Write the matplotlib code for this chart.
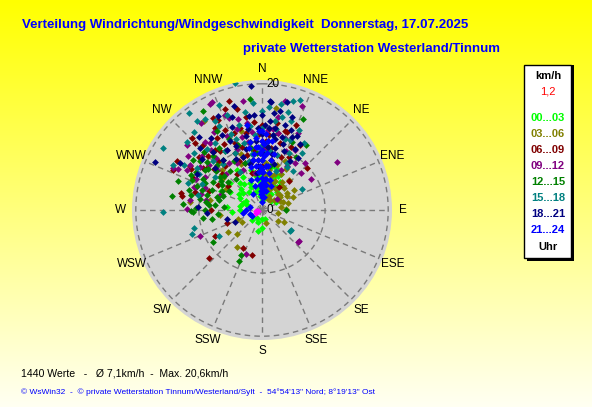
import numpy as np
import matplotlib
matplotlib.use("Agg")
import matplotlib.pyplot as plt
from matplotlib.patches import Rectangle

plt.rcParams['font.family'] = ['Liberation Sans', 'DejaVu Sans']

W, H = 592, 407

# compass directions
dir_names = ['N', 'NNE', 'NE', 'ENE', 'E', 'ESE', 'SE', 'SSE',
             'S', 'SSW', 'SW', 'WSW', 'W', 'WNW', 'NW', 'NNW']
dir_angles = np.arange(16) * 22.5

# wind readings per 3-hour block: (direction in degrees, speed in km/h)
pts_00_03 = [(0, 1.5), (10, 2.0), (20, 2.5), (350, 2.2), (340, 3.0), (15, 3.5), (30, 3.0), (5, 4.0),
             (355, 4.5), (336, 4.7), (356, 5.2), (16, 4.6), (33, 4.4), (33, 5.3), (25, 6.0), (12, 6.9),
             (345, 6.5), (320, 5.5), (312, 4.0), (299, 4.0), (288, 2.5), (266, 4.8), (300, 5.8), (325, 3.5),
             (330, 6.0), (180, 2.9), (180, 1.4), (191, 3.4), (225, 2.2), (200, 2.0), (160, 1.5), (45, 2.0),
             (60, 2.5), (40, 3.8), (8, 5.8), (22, 4.2), (350, 3.6), (310, 6.6), (295, 7.2), (2, 3.2),
             (28, 6.5), (18, 7.0), (340, 5.0), (315, 4.8), (290, 3.2), (328, 7.5),
             (0, 3), (5, 2.5), (355, 3.3), (345, 4), (8, 4.8), (20, 5.5), (30, 4.2), (350, 5.5), (325, 5),
             (305, 4.5), (280, 3.5), (270, 3.5), (10, 6), (355, 6.2), (40, 5), (15, 3), (335, 4), (300, 3),
             (275, 5.5), (210, 1.5)]
pts_03_06 = [(10, 3), (20, 3.5), (30, 4), (45, 3.5), (60, 4.5), (67, 5.3), (50, 3.7), (25, 2.5),
             (15, 4.5), (35, 5.5), (40, 2.0), (70, 3.5), (80, 3.0), (118, 4.0), (163, 2.2), (125, 3.0),
             (100, 2.5), (0, 2.5), (355, 4), (5, 5.5), (20, 6), (8, 16.4), (327, 16.8), (281, 8.4),
             (263, 6.7), (276, 11.5), (239, 3.7), (237, 6.4), (214, 7.1), (226, 5.5), (249, 4.0),
             (300, 6.5), (310, 8), (320, 10), (330, 7), (340, 9.5), (350, 11), (355, 8), (12, 9),
             (25, 8.5), (53, 3.5), (30, 7.5), (3, 12), (345, 13), (28, 6.5), (40, 5),
             (15, 5.5), (22, 4.8), (35, 4), (45, 5), (55, 4.8), (62, 3.2), (75, 4.2), (88, 3.8), (10, 6.5),
             (5, 7.5), (25, 5), (42, 6.3), (58, 6), (50, 2.5), (30, 2.0), (18, 7.5), (12, 4), (350, 6),
             (335, 8), (315, 9), (320, 12)]
pts_06_09 = [(346, 16.5), (316, 15.9), (318, 13.9), (16, 13.1), (30, 11.9), (294, 15.4), (301, 13.4),
             (280, 12.9), (282, 13.1), (270, 8.1), (307, 11), (241, 8.5), (250, 5.9), (207, 6.7),
             (193, 7.3), (228, 11.3), (43, 6.3), (47, 9.8), (340, 17), (334, 15.9), (300, 15.5), (37, 4.5),
             (330, 12), (335, 10), (340, 13), (345, 9), (350, 11), (355, 14), (0, 10), (5, 12), (10, 8),
             (15, 11), (320, 9), (310, 10), (325, 7), (315, 12), (300, 8), (290, 9), (345, 6), (355, 7),
             (335, 14), (325, 11.5), (310, 13), (0, 13.5), (10, 14), (340, 8), (20, 9), (350, 15),
             (305, 6.5), (330, 15),
             (338, 11.5), (342, 10.5), (348, 12.5), (352, 9.5), (358, 12), (3, 11), (8, 10), (12, 12.5),
             (18, 13), (25, 11), (328, 13.5), (322, 12), (318, 10.5), (312, 8.5), (305, 11.5), (295, 12),
             (285, 11), (335, 8.5), (345, 13.5), (0, 7), (332, 16.5), (315, 15), (300, 13),
             (22, 14.5), (343, 18), (27, 9.5)]
pts_09_12 = [(334, 18.7), (339, 16.2), (311, 15.7), (296, 14.8), (306, 14.5), (298, 13.4), (289, 11.4),
             (271, 11.9), (291, 9.7), (312, 12.7), (247, 10.7), (278, 11.5), (200, 7.4), (130, 7.7),
             (132, 7.6), (57, 14.1), (43, 10.1), (47, 8.5), (58, 9.2), (54, 3), (12, 17.7), (21, 17.6),
             (12, 12.5), (4, 12.7), (29, 10.9), (335, 18.8), (325, 16.8), (322, 13.5), (295, 15.6),
             (289, 11.1), (330, 11), (335, 13), (340, 9), (345, 12), (350, 14), (355, 10), (0, 8), (5, 11),
             (15, 9), (320, 12.5), (310, 11), (300, 10.5), (325, 9), (315, 8), (345, 15), (25, 7), (335, 7),
             (350, 6), (305, 12), (290, 7), (10, 15), (320, 14), (280, 9),
             (338, 10.5), (343, 13.5), (348, 11), (353, 12.5), (358, 13), (3, 9.5), (8, 13), (18, 12),
             (22, 10), (328, 14.5), (318, 11), (312, 9.5), (302, 13.5), (295, 11.5), (285, 10), (332, 8.5),
             (0, 11), (340, 15.5), (30, 8), (348, 8), (25, 13.5), (35, 9), (350, 17.5)]
pts_12_15 = [(329, 18.3), (354, 17.7), (330, 14.4), (24, 15.8), (24, 11.8), (34, 12.4), (33, 10), (90, 3.8),
             (289, 14), (279, 14.5), (274, 12.6), (269, 11.3), (293, 12), (276, 7.5), (311, 11.5),
             (268, 11), (237, 9.3), (205, 7.9), (204, 8.9), (306, 13.5), (307, 10.7), (286, 7.4),
             (308, 8.5), (300, 9), (305, 8), (295, 10), (310, 9.5), (285, 9), (290, 11), (315, 10),
             (320, 8), (325, 12), (300, 12), (280, 10), (275, 8.5), (295, 7), (310, 7), (330, 9),
             (340, 11), (350, 10), (0, 9), (10, 7), (260, 8), (265, 7), (285, 12), (305, 11), (315, 13),
             (335, 12.5),
             (298, 10.5), (302, 7.5), (292, 8.5), (288, 10), (282, 11.5), (278, 9), (272, 10.5), (312, 8),
             (318, 11.5), (322, 10), (328, 11), (296, 12.5), (308, 12.5), (283, 7), (270, 9), (262, 9.5),
             (275, 6), (290, 6.5), (300, 6), (320, 6.5), (340, 8), (355, 9), (5, 10)]
pts_15_18 = [(348, 20.6), (323, 19.2), (350, 15.8), (0, 15.7), (324, 17.5), (332, 16), (319, 16.4),
             (4, 16.4), (16, 18), (19, 18.4), (8, 14.3), (18, 14.9), (18, 11.8), (297, 15.8), (300, 14.3),
             (269, 15.7), (283, 10.4), (303, 12.2), (293, 10.4), (255, 11.2), (251, 11.7), (239, 8),
             (302, 18.5), (39, 7.9), (62, 7.2), (30, 7.9), (125, 5.6), (127, 5.6), (340, 12), (345, 14),
             (355, 12), (5, 11), (10, 13), (350, 9), (335, 10), (325, 13), (315, 11), (0, 8), (15, 9),
             (20, 6.5), (330, 7), (310, 14), (305, 9), (340, 16), (355, 17), (25, 10),
             (350, 11), (358, 10), (3, 9), (8, 12), (12, 15), (22, 12), (28, 8.5), (338, 13), (333, 15),
             (328, 11), (318, 13), (312, 16), (345, 11), (352, 13.5), (0, 13), (8, 9.5), (320, 9.5),
             (300, 11.5), (290, 12.5), (345, 8), (35, 11), (10, 17), (25, 14), (32, 12.5), (15, 16),
             (338, 18), (328, 17)]
pts_18_21 = [(355, 19.8), (355, 15.1), (4, 17.3), (5, 14.2), (9, 13.2), (13, 17.6), (294, 18.6),
             (299, 11.7), (273, 10.2), (267, 8.7), (256, 5.7), (246, 4.7), (319, 15.3), (5, 17.2),
             (0, 12), (5, 10), (10, 9), (355, 11), (350, 13), (345, 10), (340, 14), (335, 12), (0, 15),
             (5, 13), (15, 12), (20, 10), (350, 8), (355, 7), (330, 11), (325, 14), (345, 17), (10, 16),
             (0, 6), (5, 7), (15, 7.5), (340, 9), (320, 12), (310, 12.5), (300, 15), (25, 13), (30, 9),
             (358, 9), (2, 10.5), (8, 12), (12, 10), (18, 11), (22, 12.5), (348, 12), (352, 15), (338, 11),
             (332, 13.5), (342, 15.5), (2, 13.5), (7, 15.5), (15, 14), (28, 11), (35, 10), (322, 10),
             (315, 14), (345, 7.5), (352, 6), (0, 9), (10, 11.5), (20, 13.5), (357, 13), (333, 9), (312, 10),
             (18, 15.5), (30, 12), (335, 16.5)]
pts_21_24 = [(0, 2), (0, 3.5), (0, 5), (0, 6.5), (0, 8), (0, 9.5), (0, 11), (355, 4), (355, 6), (355, 8),
             (355, 10), (5, 3), (5, 5), (5, 7), (5, 9), (10, 4), (10, 6), (10, 8), (350, 5), (350, 8),
             (350, 13.7), (356, 10), (284, 2), (270, 2.5), (250, 2), (330, 3), (345, 7), (15, 5), (20, 4),
             (3, 12), (358, 12.5), (8, 11), (352, 9), (2, 4.5), (7, 2), (340, 5), (260, 3), (240, 1.8),
             (0, 1.2), (358, 3), (2, 6), (358, 7), (2, 8.5), (358, 9), (2, 10.5), (5, 11), (355, 11.5),
             (8, 5), (8, 7), (12, 9), (352, 7), (348, 10), (345, 4), (12, 3), (0, 12.5), (350, 11),
             (355, 2.5), (6, 4)]
pts_calm = [(250, 0.6), (260, 0.9), (240, 1.1)]

groups = [pts_00_03, pts_03_06, pts_06_09, pts_09_12, pts_12_15, pts_15_18, pts_18_21, pts_21_24]
group_labels = ['00...03', '03...06', '06...09', '09...12', '12...15', '15...18', '18...21', '21...24']
group_colors = ['#00ff00', '#808000', '#800000', '#800080', '#008000', '#008080', '#000080', '#0000ff']

title = 'Verteilung Windrichtung/Windgeschwindigkeit  Donnerstag, 17.07.2025'
subtitle = 'private Wetterstation Westerland/Tinnum'
stats = '1440 Werte   -   Ø 7,1km/h  -  Max. 20,6km/h'
credits = '© WsWin32  -  © private Wetterstation Tinnum/Westerland/Sylt  -  54°54\'13" Nord; 8°19\'13" Ost'
r_max = 20.6


def fx(x):
    return x / W


def fy(y):
    return 1 - y / H


fig = plt.figure(figsize=(W / 100, H / 100), dpi=100)

# yellow background gradient
bg = fig.add_axes([0, 0, 1, 1])
bg.axis('off')
t = np.linspace(0, 1, 256)
grad = np.ones((256, 2, 3))
grad[:, :, 2] = (0.95 * t)[:, None]
bg.imshow(grad, aspect='auto', extent=[0, 1, 1, 0])
bg.set_xlim(0, 1)
bg.set_ylim(1, 0)

# polar plot: centre (262, 210), radius 130 px
cx, cy, rad = 262, 210, 130
ax = fig.add_axes([fx(cx - rad), fy(cy + rad), 2 * rad / W, 2 * rad / H], projection='polar')
ax.set_theta_zero_location('N')
ax.set_theta_direction(-1)
ax.set_ylim(0, r_max)
ax.set_facecolor('#d4d4d4')
ax.grid(False)
ax.set_xticks([])
ax.set_yticks([])
ax.spines['polar'].set_visible(False)

th = np.linspace(0, 2 * np.pi, 361)
for r in [10, 20]:
    ax.plot(th, np.full_like(th, r), color='#7a7a7a', lw=1, ls=(0, (4, 3)), zorder=1)
for a in dir_angles:
    ax.plot([np.deg2rad(a)] * 2, [0, 20], color='#7a7a7a', lw=1, ls=(0, (4, 3)), zorder=1)

for a, name in zip(dir_angles, dir_names):
    ax.text(np.deg2rad(a), r_max * 141 / 130, name, ha='center', va='center',
            fontsize=8.5, clip_on=False)

ax.annotate('20', xy=(0, 20), xytext=(3, 0), textcoords='offset points',
            ha='left', va='center', fontsize=8.5, zorder=5)
ax.annotate('0', xy=(0, 0), xytext=(3, 0), textcoords='offset points',
            ha='left', va='center', fontsize=8.5, zorder=5)

for pts, col in zip(groups, group_colors):
    d = np.array(pts)
    ax.scatter(np.deg2rad(d[:, 0]), d[:, 1], marker='D', s=12, color=col, linewidths=0, zorder=3)
d = np.array(pts_calm)
ax.scatter(np.deg2rad(d[:, 0]), d[:, 1], marker='D', s=12, color='#ff00ff', linewidths=0, zorder=4)

# titles
fig.text(fx(22), fy(25), title, color='#0000ff', fontsize=9.5, fontweight='bold', va='center')
fig.text(fx(243), fy(49), subtitle, color='#0000ff', fontsize=9.5, fontweight='bold', va='center')

# legend box
fig.add_artist(Rectangle((fx(527), fy(261)), fx(47), 196 / H, transform=fig.transFigure,
                         facecolor='black', edgecolor='none'))
fig.add_artist(Rectangle((fx(524), fy(258)), fx(47), 193 / H, transform=fig.transFigure,
                         facecolor='white', edgecolor='black', lw=1))
lx = fx(548)
fig.text(lx, fy(76), 'km/h', ha='center', va='center', fontsize=8, fontweight='bold')
fig.text(lx, fy(91), '1,2', ha='center', va='center', fontsize=8, color='#ff0000')
for i, (lab, col) in enumerate(zip(group_labels, group_colors)):
    fig.text(lx, fy(118 + 16 * i), lab, ha='center', va='center', fontsize=8,
             fontweight='bold', color=col)
fig.text(lx, fy(247), 'Uhr', ha='center', va='center', fontsize=8, fontweight='bold')

# footer
fig.text(fx(21), fy(373), stats, fontsize=7.6, va='center')
fig.text(fx(21), fy(392), credits, fontsize=6, color='#0000ff', va='center')

fig.savefig('out.png', dpi=100)
